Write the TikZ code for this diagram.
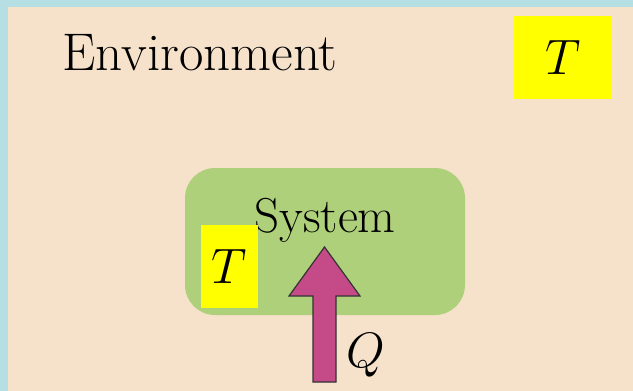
\documentclass[tikz,border=0pt]{standalone}
\usepackage{tikz}
\usetikzlibrary{calc}
\definecolor{rand}{HTML}{B5DFE3}
\definecolor{umg}{HTML}{F6E2CB}
\definecolor{sysgruen}{HTML}{AFD07A}
\definecolor{gelb}{HTML}{FFFF00}
\definecolor{waerme}{HTML}{C54A88}
\newcommand{\gross}{\fontsize{24.5}{29}\selectfont}
\newcommand{\umgschrift}{\fontsize{26.5}{31}\selectfont}
\tikzset{
  txt/.style={inner sep=0pt,font=\gross},
  tbox/.style={fill=gelb,inner sep=0pt,font=\gross},
  sysbox/.style={fill=sysgruen,rounded corners=15pt,inner sep=0pt,
    minimum width=140pt,minimum height=73.5pt},
  pfeil/.style={fill=waerme,draw=black!80,line width=0.6pt,line join=miter},
}
\begin{document}
\begin{tikzpicture}[x=0.5pt,y=-0.5pt]
  \fill[rand] (0,0) rectangle (633,391);
  \fill[umg] (8,7) rectangle (633,391);
  \useasboundingbox (0,0) rectangle (633,391);
  \node[txt,font=\umgschrift,anchor=base west] (env) at (62,70) {Environment};
  \node[tbox,minimum width=49pt,minimum height=41.5pt] (tenv) at (563,57) {$T$};
  \node[sysbox] (sys) at (325,241.5) {};
  \node[txt,anchor=base] (syslbl) at (325,232) {System};
  \node[tbox,minimum width=28.5pt,minimum height=41.5pt] (tsys) at (229.5,266.5) {$T$};
  % Waermefluss Q
  \coordinate (qfuss) at (324.5,382);
  \coordinate (qspitze) at (324.5,247);
  \draw[pfeil] ($(qfuss)+(-11.5,0)$) -- ($(qspitze)+(-11.5,49)$)
    -- ($(qspitze)+(-35.5,49)$) -- (qspitze) -- ($(qspitze)+(35.5,49)$)
    -- ($(qspitze)+(11.5,49)$) -- ($(qfuss)+(11.5,0)$) -- cycle;
  \node[txt] (q) at (366,355) {$Q$};
\end{tikzpicture}
\end{document}
